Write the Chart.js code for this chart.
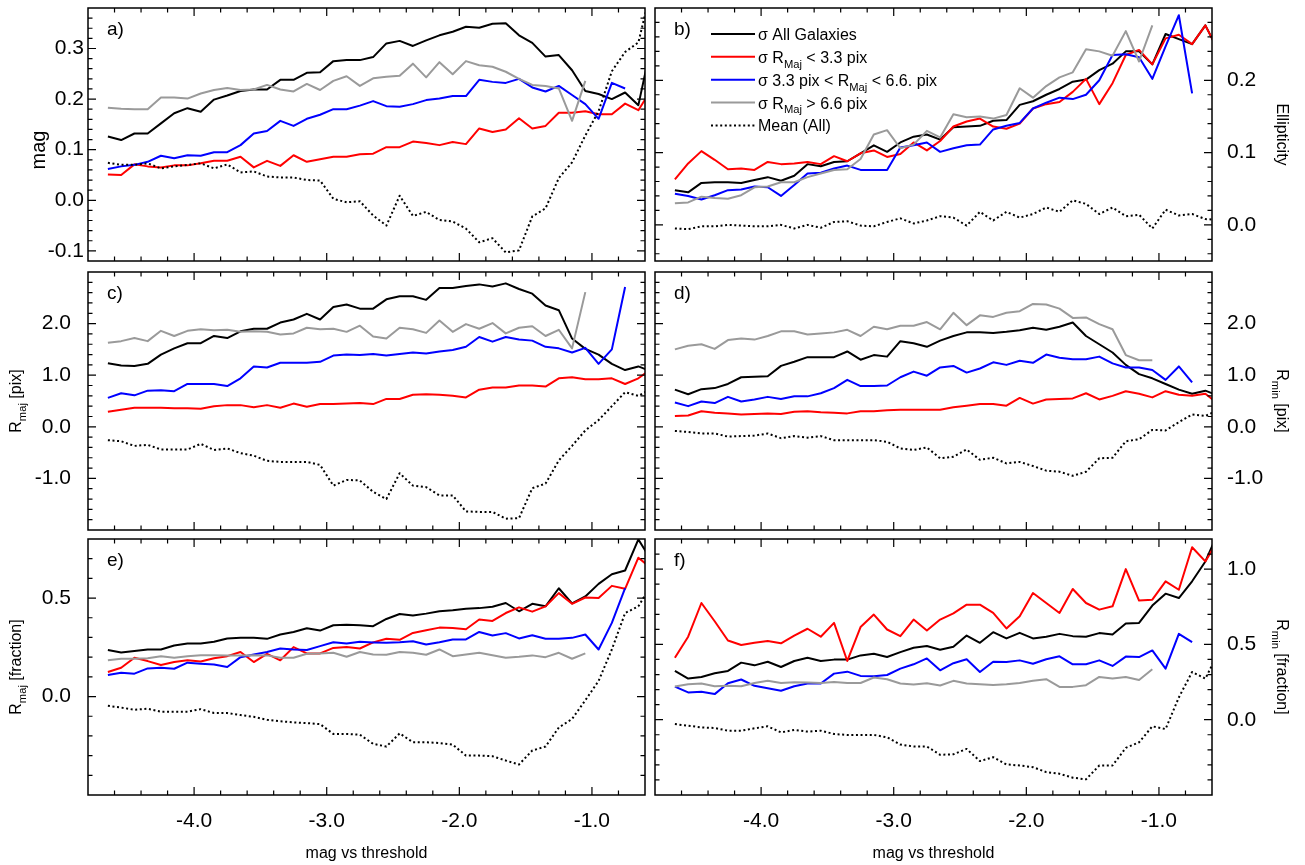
<!DOCTYPE html>
<html><head><meta charset="utf-8"><title>mag vs threshold panels</title>
<script src="https://cdn.jsdelivr.net/npm/chart.js@4.4.1/dist/chart.umd.min.js"></script>
<style>
html,body{margin:0;padding:0;background:#fff;}
body{position:relative;width:1305px;height:865px;overflow:hidden;}
canvas{position:absolute;}
</style></head><body>
<canvas id="pa" width="650" height="266" style="left:0px;top:0px"></canvas>
<canvas id="pb" width="655" height="266" style="left:650px;top:0px"></canvas>
<canvas id="pc" width="650" height="269" style="left:0px;top:266px"></canvas>
<canvas id="pd" width="655" height="269" style="left:650px;top:266px"></canvas>
<canvas id="pe" width="650" height="330" style="left:0px;top:535px"></canvas>
<canvas id="pf" width="655" height="330" style="left:650px;top:535px"></canvas>
<script>
// ---------- data ----------
const X_VALUES = [-4.65,-4.55,-4.45,-4.35,-4.25,-4.15,-4.05,-3.95,-3.85,-3.75,-3.65,-3.55,-3.45,-3.35,-3.25,-3.15,-3.05,-2.95,-2.85,-2.75,-2.65,-2.55,-2.45,-2.35,-2.25,-2.15,-2.05,-1.95,-1.85,-1.75,-1.65,-1.55,-1.45,-1.35,-1.25,-1.15,-1.05,-0.95,-0.85,-0.75,-0.65,-0.55];
const X_TICKS = [-4, -3, -2, -1];

const A_TICKS = [-0.1, 0, 0.1, 0.2, 0.3];
const B_TICKS = [0, 0.1, 0.2];
const C_TICKS = [-1, 0, 1, 2];
const D_TICKS = [-1, 0, 1, 2];
const E_TICKS = [0, 0.5];
const F_TICKS = [0, 0.5, 1.0];

// panel a: mag
const A_ALL = [0.126,0.119,0.132,0.132,0.152,0.172,0.182,0.175,0.199,0.207,0.216,0.219,0.219,0.238,0.238,0.252,0.253,0.275,0.277,0.277,0.283,0.310,0.315,0.305,0.316,0.326,0.333,0.343,0.341,0.349,0.350,0.326,0.311,0.284,0.287,0.257,0.216,0.210,0.200,0.213,0.188,0.310];
const A_SMALL = [0.051,0.050,0.071,0.067,0.065,0.069,0.069,0.073,0.078,0.078,0.086,0.065,0.078,0.068,0.089,0.076,0.081,0.086,0.086,0.091,0.092,0.105,0.105,0.116,0.113,0.109,0.115,0.111,0.142,0.135,0.140,0.162,0.142,0.147,0.173,0.173,0.176,0.170,0.170,0.191,0.178,0.220];
const A_MID = [0.062,0.067,0.070,0.076,0.088,0.083,0.089,0.088,0.095,0.095,0.109,0.132,0.137,0.157,0.147,0.161,0.169,0.180,0.180,0.187,0.196,0.186,0.185,0.190,0.198,0.201,0.206,0.206,0.238,0.234,0.232,0.240,0.223,0.215,0.226,0.208,0.190,0.161,0.232,0.221];
const A_LARGE = [0.183,0.181,0.180,0.180,0.203,0.203,0.201,0.211,0.218,0.222,0.218,0.219,0.228,0.219,0.215,0.230,0.218,0.236,0.245,0.226,0.241,0.244,0.246,0.270,0.243,0.273,0.249,0.275,0.267,0.264,0.254,0.240,0.228,0.226,0.221,0.157,0.236];
const A_MEAN = [0.074,0.070,0.070,0.073,0.063,0.067,0.070,0.073,0.063,0.071,0.055,0.057,0.047,0.045,0.045,0.040,0.039,0.003,-0.004,-0.002,-0.030,-0.050,0.009,-0.031,-0.023,-0.039,-0.042,-0.056,-0.083,-0.075,-0.103,-0.099,-0.032,-0.016,0.044,0.075,0.128,0.176,0.255,0.293,0.312,0.420];

// panel b: ellipticity
const B_ALL = [0.048,0.045,0.058,0.059,0.059,0.058,0.062,0.066,0.061,0.068,0.084,0.081,0.087,0.088,0.099,0.110,0.101,0.114,0.122,0.125,0.118,0.135,0.136,0.137,0.144,0.145,0.166,0.171,0.180,0.188,0.198,0.201,0.214,0.223,0.240,0.240,0.222,0.264,0.257,0.250,0.276,0.240];
const B_SMALL = [0.063,0.085,0.102,0.090,0.077,0.078,0.076,0.087,0.084,0.085,0.087,0.084,0.095,0.088,0.099,0.103,0.094,0.098,0.114,0.103,0.116,0.136,0.143,0.147,0.136,0.133,0.140,0.161,0.167,0.170,0.184,0.202,0.167,0.196,0.235,0.242,0.222,0.258,0.263,0.250,0.276,0.240];
const B_MID = [0.043,0.040,0.035,0.041,0.048,0.049,0.053,0.052,0.040,0.055,0.071,0.072,0.078,0.082,0.076,0.076,0.076,0.107,0.110,0.114,0.101,0.106,0.110,0.111,0.132,0.137,0.141,0.161,0.169,0.176,0.174,0.180,0.200,0.235,0.236,0.232,0.202,0.247,0.290,0.182];
const B_LARGE = [0.030,0.031,0.039,0.037,0.036,0.041,0.052,0.053,0.059,0.059,0.066,0.071,0.076,0.077,0.091,0.125,0.131,0.106,0.111,0.130,0.121,0.153,0.149,0.150,0.147,0.152,0.189,0.176,0.192,0.204,0.211,0.243,0.240,0.234,0.268,0.226,0.276];
const B_MEAN = [-0.005,-0.006,-0.002,-0.002,0.000,-0.001,-0.002,-0.002,0.000,-0.005,0.000,-0.004,0.004,0.005,-0.001,-0.002,0.004,0.009,0.002,0.006,0.012,0.010,-0.001,0.018,0.006,0.018,0.010,0.015,0.024,0.018,0.034,0.029,0.015,0.024,0.012,0.014,-0.005,0.021,0.013,0.015,0.008,0.007];

// panel c: R_maj [pix]
const C_ALL = [1.23,1.19,1.18,1.22,1.40,1.52,1.62,1.62,1.76,1.72,1.85,1.90,1.90,2.02,2.08,2.19,2.08,2.32,2.37,2.29,2.29,2.47,2.53,2.53,2.46,2.69,2.69,2.73,2.76,2.72,2.78,2.67,2.58,2.35,2.26,1.71,1.51,1.40,1.22,1.10,1.17,1.07];
const C_SMALL = [0.29,0.33,0.37,0.37,0.37,0.36,0.36,0.35,0.40,0.42,0.42,0.38,0.42,0.37,0.45,0.39,0.44,0.44,0.45,0.46,0.44,0.54,0.54,0.62,0.63,0.62,0.60,0.57,0.72,0.76,0.76,0.80,0.80,0.78,0.94,0.96,0.92,0.92,0.94,0.83,0.94,1.13];
const C_MID = [0.56,0.65,0.61,0.70,0.71,0.69,0.83,0.83,0.83,0.79,0.94,1.17,1.15,1.24,1.24,1.24,1.26,1.38,1.40,1.39,1.41,1.38,1.41,1.44,1.42,1.46,1.49,1.55,1.74,1.65,1.74,1.69,1.67,1.55,1.52,1.44,1.53,1.22,1.50,2.71];
const C_LARGE = [1.63,1.66,1.72,1.66,1.86,1.76,1.86,1.89,1.87,1.88,1.84,1.85,1.84,1.79,1.81,1.92,1.89,1.90,1.84,1.96,1.75,1.71,1.92,1.89,1.82,2.06,1.84,1.99,1.90,2.01,1.81,1.92,1.95,1.76,1.88,1.52,2.61];
const C_MEAN = [-0.26,-0.28,-0.37,-0.35,-0.44,-0.44,-0.44,-0.33,-0.45,-0.42,-0.51,-0.56,-0.66,-0.68,-0.68,-0.68,-0.74,-1.14,-1.03,-1.04,-1.26,-1.40,-0.90,-1.14,-1.17,-1.33,-1.33,-1.64,-1.65,-1.65,-1.78,-1.77,-1.19,-1.10,-0.65,-0.37,-0.07,0.13,0.40,0.67,0.60,0.74];

// panel d: R_min [pix]
const D_ALL = [0.72,0.63,0.73,0.75,0.83,0.96,0.97,0.98,1.18,1.26,1.35,1.35,1.35,1.46,1.30,1.39,1.36,1.66,1.62,1.55,1.67,1.76,1.83,1.83,1.82,1.84,1.87,1.92,1.88,1.94,2.02,1.76,1.60,1.44,1.20,1.02,0.94,0.83,0.72,0.64,0.70,0.60];
const D_SMALL = [0.21,0.22,0.30,0.27,0.26,0.24,0.25,0.26,0.25,0.29,0.30,0.28,0.27,0.26,0.30,0.30,0.32,0.33,0.33,0.33,0.33,0.38,0.41,0.44,0.44,0.41,0.56,0.45,0.53,0.54,0.55,0.65,0.53,0.60,0.69,0.64,0.57,0.69,0.62,0.60,0.64,0.44];
const D_MID = [0.47,0.40,0.49,0.46,0.58,0.49,0.53,0.58,0.54,0.59,0.59,0.65,0.75,0.91,0.79,0.79,0.80,0.96,1.07,0.99,1.15,1.18,1.05,1.13,1.25,1.20,1.28,1.24,1.40,1.34,1.31,1.31,1.36,1.23,1.15,1.15,1.10,0.91,1.17,0.86];
const D_LARGE = [1.50,1.57,1.60,1.51,1.68,1.71,1.69,1.76,1.85,1.85,1.79,1.81,1.83,1.88,1.76,1.94,1.89,1.96,1.96,2.03,1.89,2.21,1.97,2.16,2.13,2.21,2.24,2.38,2.37,2.29,2.11,2.12,1.99,1.89,1.39,1.29,1.29];
const D_MEAN = [-0.08,-0.10,-0.13,-0.13,-0.19,-0.18,-0.17,-0.13,-0.22,-0.18,-0.21,-0.18,-0.26,-0.26,-0.26,-0.26,-0.29,-0.42,-0.45,-0.40,-0.61,-0.58,-0.44,-0.64,-0.60,-0.71,-0.68,-0.76,-0.85,-0.87,-0.95,-0.87,-0.61,-0.60,-0.28,-0.24,-0.06,-0.07,0.09,0.24,0.21,0.33];

// panel e: R_maj [fraction]
const E_ALL = [0.236,0.224,0.231,0.239,0.239,0.259,0.269,0.269,0.278,0.295,0.298,0.298,0.293,0.315,0.328,0.347,0.335,0.362,0.365,0.362,0.357,0.394,0.419,0.411,0.421,0.433,0.438,0.446,0.449,0.456,0.475,0.433,0.471,0.458,0.550,0.473,0.508,0.572,0.621,0.640,0.798,0.690];
const E_SMALL = [0.125,0.146,0.197,0.180,0.160,0.175,0.184,0.178,0.194,0.205,0.226,0.175,0.217,0.184,0.251,0.219,0.219,0.247,0.251,0.244,0.275,0.293,0.288,0.323,0.337,0.350,0.348,0.342,0.391,0.384,0.424,0.453,0.431,0.458,0.525,0.471,0.503,0.500,0.562,0.547,0.705,0.650];
const E_MID = [0.109,0.121,0.116,0.143,0.146,0.141,0.172,0.167,0.163,0.150,0.200,0.214,0.226,0.244,0.239,0.236,0.256,0.276,0.269,0.278,0.275,0.273,0.276,0.281,0.264,0.276,0.290,0.290,0.328,0.310,0.322,0.295,0.311,0.293,0.293,0.298,0.315,0.239,0.374,0.551];
const E_LARGE = [0.184,0.192,0.192,0.194,0.205,0.197,0.204,0.210,0.210,0.209,0.209,0.210,0.209,0.197,0.197,0.217,0.219,0.222,0.202,0.226,0.214,0.212,0.226,0.222,0.212,0.239,0.205,0.214,0.222,0.210,0.197,0.202,0.209,0.200,0.222,0.192,0.219];
const E_MEAN = [-0.047,-0.056,-0.067,-0.062,-0.077,-0.077,-0.077,-0.064,-0.084,-0.084,-0.094,-0.103,-0.118,-0.126,-0.131,-0.135,-0.140,-0.190,-0.190,-0.194,-0.240,-0.254,-0.187,-0.232,-0.232,-0.236,-0.244,-0.300,-0.300,-0.303,-0.325,-0.345,-0.274,-0.254,-0.157,-0.114,-0.019,0.079,0.239,0.424,0.458,0.570];

// panel f: R_min [fraction]
const F_ALL = [0.324,0.273,0.284,0.308,0.324,0.379,0.361,0.385,0.350,0.390,0.412,0.390,0.399,0.399,0.427,0.438,0.416,0.449,0.478,0.489,0.465,0.484,0.559,0.511,0.581,0.540,0.577,0.540,0.551,0.570,0.555,0.551,0.575,0.566,0.639,0.643,0.758,0.837,0.808,0.919,1.051,1.250];
const F_SMALL = [0.412,0.551,0.775,0.654,0.526,0.496,0.511,0.522,0.507,0.559,0.604,0.551,0.643,0.390,0.615,0.698,0.599,0.555,0.665,0.593,0.665,0.706,0.764,0.764,0.709,0.606,0.687,0.841,0.775,0.709,0.868,0.775,0.731,0.753,1.000,0.791,0.797,0.919,0.863,1.145,1.051,1.200];
const F_MID = [0.220,0.181,0.185,0.170,0.242,0.267,0.225,0.209,0.192,0.222,0.240,0.240,0.306,0.319,0.291,0.289,0.297,0.339,0.368,0.407,0.328,0.375,0.401,0.317,0.385,0.383,0.394,0.372,0.401,0.421,0.368,0.368,0.394,0.357,0.419,0.416,0.460,0.339,0.570,0.515];
const F_LARGE = [0.220,0.236,0.240,0.222,0.225,0.222,0.244,0.258,0.244,0.249,0.247,0.244,0.251,0.244,0.244,0.280,0.269,0.240,0.233,0.242,0.227,0.258,0.240,0.236,0.231,0.236,0.244,0.258,0.269,0.218,0.218,0.229,0.284,0.273,0.284,0.264,0.335];
const F_MEAN = [-0.029,-0.040,-0.051,-0.055,-0.073,-0.073,-0.057,-0.044,-0.084,-0.068,-0.079,-0.073,-0.095,-0.101,-0.101,-0.101,-0.117,-0.165,-0.178,-0.178,-0.233,-0.230,-0.194,-0.275,-0.249,-0.297,-0.304,-0.315,-0.348,-0.359,-0.385,-0.396,-0.304,-0.304,-0.187,-0.150,-0.044,-0.062,0.148,0.317,0.273,0.450];

const SERIES_LABELS = ['σ All Galaxies', 'σ R_Maj < 3.3 pix', 'σ 3.3 pix < R_Maj < 6.6. pix', 'σ R_Maj > 6.6 pix', 'Mean (All)'];
const LEGEND_TEXT = [
  [{t:'σ All Galaxies'}],
  [{t:'σ R'},{t:'Maj',sub:true},{t:' < 3.3 pix'}],
  [{t:'σ 3.3 pix < R'},{t:'Maj',sub:true},{t:' < 6.6. pix'}],
  [{t:'σ R'},{t:'Maj',sub:true},{t:' > 6.6 pix'}],
  [{t:'Mean (All)'}]
];
const X_TITLE = 'mag vs threshold';

// ---------- styling ----------
const FONT = '"Liberation Sans", Arial, Helvetica, sans-serif';
Chart.defaults.font.family = FONT;
Chart.defaults.color = '#000';
const STYLES = [
  {color:'#000000', dash:[], order:5},
  {color:'#ff0000', dash:[], order:4},
  {color:'#0000ff', dash:[], order:3},
  {color:'#9a9a9a', dash:[], order:2},
  {color:'#000000', dash:[2,2.6], order:1}
];

function fontStr(size){ return size + 'px ' + FONT; }
function richWidth(ctx, segs, size){
  let w = 0;
  segs.forEach(s => { ctx.font = fontStr(s.sub ? size*0.7 : size); w += ctx.measureText(s.t).width; });
  return w;
}
function drawRich(ctx, segs, x, y, size){
  let cx = x;
  segs.forEach(s => {
    const fs = s.sub ? size*0.7 : size;
    ctx.font = fontStr(fs);
    ctx.fillText(s.t, cx, s.sub ? y + size*0.3 : y);
    cx += ctx.measureText(s.t).width;
  });
}

const decor = {
  id: 'decor',
  afterDatasetsDraw(chart, args, o) {
    const {ctx, chartArea: a} = chart;
    const xs = chart.scales.x, ys = chart.scales.y;
    ctx.save();
    ctx.strokeStyle = '#000';
    ctx.fillStyle = '#000';
    ctx.setLineDash([]);
    ctx.lineWidth = 1.2;
    ctx.beginPath();
    const MAJ = 8, MIN = 4.5;
    for (let k = -24; k <= -3; k++) {
      const v = k * 0.2;
      const major = Math.abs(v - Math.round(v)) < 1e-6;
      const p = xs.getPixelForValue(v);
      if (p <= a.left + 1 || p >= a.right - 1) continue;
      const len = major ? MAJ : MIN;
      ctx.moveTo(p, a.bottom); ctx.lineTo(p, a.bottom - len);
      ctx.moveTo(p, a.top); ctx.lineTo(p, a.top + len);
    }
    const st = o.minor;
    for (let k = Math.ceil(o.min / st - 1e-6); k * st <= o.max + 1e-9; k++) {
      const v = k * st;
      const major = o.majors.some(m => Math.abs(m - v) < st * 0.01);
      const p = ys.getPixelForValue(v);
      if (p <= a.top + 1 || p >= a.bottom - 1) continue;
      const len = major ? MAJ : MIN;
      ctx.moveTo(a.left, p); ctx.lineTo(a.left + len, p);
      ctx.moveTo(a.right, p); ctx.lineTo(a.right - len, p);
    }
    ctx.stroke();
    ctx.lineWidth = 1.5;
    ctx.strokeRect(a.left, a.top, a.right - a.left, a.bottom - a.top);

    ctx.textAlign = 'left';
    ctx.textBaseline = 'alphabetic';
    ctx.font = fontStr(19);
    ctx.fillText(o.label, a.left + 19, a.top + 27);

    const cy = o.titleY != null ? o.titleY : (a.top + a.bottom) / 2;
    const w = richWidth(ctx, o.title, o.titleSize);
    ctx.save();
    ctx.translate(o.titleX, cy);
    ctx.rotate(o.side === 'left' ? -Math.PI / 2 : Math.PI / 2);
    drawRich(ctx, o.title, -w / 2, 0, o.titleSize);
    ctx.restore();

    if (o.legend) {
      LEGEND_TEXT.forEach((segs, k) => {
        const st2 = STYLES[k];
        const y = a.top + 26 + k * 22.85;
        ctx.beginPath();
        ctx.strokeStyle = st2.color;
        ctx.lineWidth = 2;
        ctx.setLineDash(st2.dash);
        ctx.moveTo(a.left + 56, y); ctx.lineTo(a.left + 100, y);
        ctx.stroke();
        ctx.setLineDash([]);
        ctx.fillStyle = '#000';
        drawRich(ctx, segs, a.left + 103, y + 6, 16);
      });
    }
    ctx.restore();
  }
};

const PANELS = [
  {id:'pa', side:'left', row:1, min:-0.12, max:0.38, ticks:A_TICKS, minor:0.02, series:[A_ALL,A_SMALL,A_MID,A_LARGE,A_MEAN], label:'a)', title:[{t:'mag'}], titleSize:20, titleX:45, titleY:150, tickPad:4},
  {id:'pb', side:'right', row:1, min:-0.05, max:0.30, ticks:B_TICKS, minor:0.02, series:[B_ALL,B_SMALL,B_MID,B_LARGE,B_MEAN], label:'b)', title:[{t:'Ellipticity'}], titleSize:16, titleX:627, legend:true, tickPad:15},
  {id:'pc', side:'left', row:2, min:-2, max:3, ticks:C_TICKS, minor:0.2, series:[C_ALL,C_SMALL,C_MID,C_LARGE,C_MEAN], label:'c)', title:[{t:'R'},{t:'maj',sub:true},{t:' [pix]'}], titleSize:16, titleX:21, tickPad:17},
  {id:'pd', side:'right', row:2, min:-2, max:3, ticks:D_TICKS, minor:0.2, series:[D_ALL,D_SMALL,D_MID,D_LARGE,D_MEAN], label:'d)', title:[{t:'R'},{t:'min',sub:true},{t:' [pix]'}], titleSize:16, titleX:627, tickPad:15},
  {id:'pe', side:'left', row:3, min:-0.5, max:0.8, ticks:E_TICKS, minor:0.1, series:[E_ALL,E_SMALL,E_MID,E_LARGE,E_MEAN], label:'e)', title:[{t:'R'},{t:'maj',sub:true},{t:' [fraction]'}], titleSize:16, titleX:21, tickPad:17},
  {id:'pf', side:'right', row:3, min:-0.5, max:1.2, ticks:F_TICKS, minor:0.1, series:[F_ALL,F_SMALL,F_MID,F_LARGE,F_MEAN], label:'f)', title:[{t:'R'},{t:'min',sub:true},{t:' [fraction]'}], titleSize:16, titleX:627, tickPad:15}
];

const ROW_PAD = {1:{top:8, bottom:5}, 2:{top:6, bottom:5}, 3:{top:4, bottom:0}};

PANELS.forEach(P => {
  const datasets = P.series.map((vals, k) => ({
    label: SERIES_LABELS[k],
    data: vals.map((v, i) => ({x: X_VALUES[i], y: v})),
    borderColor: STYLES[k].color,
    backgroundColor: STYLES[k].color,
    borderDash: STYLES[k].dash,
    borderWidth: 2,
    borderJoinStyle: 'round',
    borderCapStyle: 'butt',
    pointRadius: 0,
    tension: 0,
    fill: false,
    order: STYLES[k].order
  }));
  const isBottom = P.row === 3;
  const xScale = {
    type: 'linear', min: -4.8, max: -0.6, bounds: 'data',
    display: isBottom,
    afterBuildTicks: s => { s.ticks = X_TICKS.map(v => ({value: v})); },
    afterFit: s => { if (isBottom) s.height = 70; s.paddingLeft = 0; s.paddingRight = 0; s.paddingTop = 0; s.paddingBottom = 0; },
    grid: {display: false, drawTicks: false},
    border: {display: false},
    ticks: {autoSkip: false, maxRotation: 0, minRotation: 0, padding: 14, font: {size: 21}, color: '#000', callback: v => Number(v).toFixed(1)},
    title: {display: true, text: X_TITLE, font: {size: 16}, color: '#000', padding: {top: 0, bottom: 2}}
  };
  new Chart(document.getElementById(P.id), {
    type: 'line',
    data: {datasets},
    options: {
      responsive: false,
      animation: false,
      events: [],
      layout: {padding: {
        left: P.side === 'left' ? 0 : 5,
        right: P.side === 'left' ? 5 : 0,
        top: ROW_PAD[P.row].top,
        bottom: ROW_PAD[P.row].bottom
      }},
      plugins: {
        legend: {display: false},
        tooltip: {enabled: false},
        decor: {side: P.side, min: P.min, max: P.max, minor: P.minor, majors: P.ticks, label: P.label, title: P.title, titleSize: P.titleSize, titleX: P.titleX, titleY: P.titleY, legend: !!P.legend}
      },
      scales: {
        x: xScale,
        y: {
          type: 'linear', position: P.side, min: P.min, max: P.max, bounds: 'data',
          afterBuildTicks: s => { s.ticks = P.ticks.map(v => ({value: v})); },
          afterFit: s => { s.width = P.side === 'left' ? 88 : 93; s.paddingTop = 0; s.paddingBottom = 0; s.paddingLeft = 0; s.paddingRight = 0; },
          grid: {display: false, drawTicks: false},
          border: {display: false},
          ticks: {autoSkip: false, padding: P.tickPad, font: {size: 21}, color: '#000', callback: v => Number(v).toFixed(1)}
        }
      }
    },
    plugins: [decor]
  });
});
</script>
</body></html>
